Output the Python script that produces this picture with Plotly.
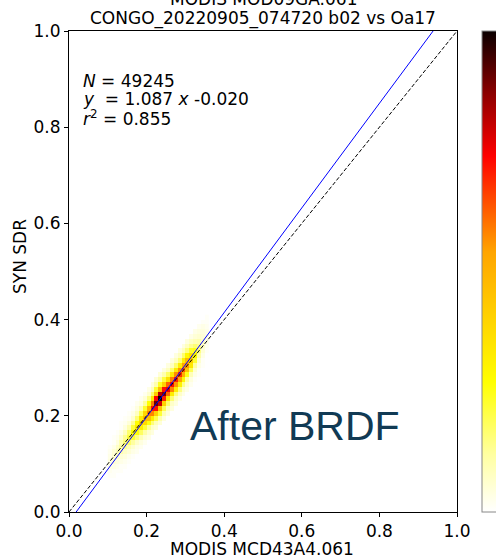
import plotly.graph_objects as go

# ---------------- data ----------------
n_points = 49245
slope = 1.087
intercept = -0.020
r2 = 0.855

bin_width = 0.01
# left edges of x bins (MODIS MCD43A4.061)
x_bin_left = [0.10, 0.11, 0.12, 0.13, 0.14, 0.15, 0.16, 0.17, 0.18, 0.19,
              0.20, 0.21, 0.22, 0.23, 0.24, 0.25, 0.26, 0.27, 0.28, 0.29,
              0.30, 0.31, 0.32, 0.33, 0.34, 0.35]
# y-bin offsets (in bins) relative to the x bin, for the counts below
y_offsets = [-5, -4, -3, -2, -1, 0, 1, 2, 3, 4, 5]
# relative pixel counts per column (one row per x bin, values along y_offsets)
column_counts = [
    [0, 0, 1, 2, 3, 4, 3, 2, 1, 0, 0],
    [0, 1, 1, 3, 5, 6, 5, 3, 1, 1, 0],
    [0, 1, 2, 4, 7, 9, 7, 4, 2, 1, 0],
    [1, 1, 3, 5, 10, 12, 10, 6, 3, 1, 1],
    [1, 2, 4, 7, 13, 16, 13, 8, 4, 2, 1],
    [1, 2, 5, 9, 17, 21, 17, 10, 5, 2, 1],
    [1, 3, 6, 12, 22, 27, 22, 13, 6, 3, 1],
    [2, 3, 7, 15, 26, 33, 27, 16, 8, 4, 2],
    [2, 4, 9, 18, 32, 40, 33, 19, 10, 4, 2],
    [2, 5, 11, 22, 38, 48, 39, 23, 12, 5, 2],
    [3, 6, 13, 26, 46, 58, 48, 27, 14, 6, 3],
    [4, 7, 16, 32, 58, 72, 59, 34, 17, 8, 4],
    [5, 9, 20, 41, 72, 90, 74, 42, 22, 10, 5],
    [5, 10, 22, 45, 80, 100, 82, 47, 24, 11, 5],
    [4, 9, 19, 40, 70, 88, 72, 41, 21, 10, 4],
    [4, 8, 17, 34, 61, 76, 62, 36, 18, 8, 4],
    [4, 7, 16, 32, 58, 72, 59, 34, 17, 8, 4],
    [4, 7, 15, 32, 56, 70, 57, 33, 17, 8, 4],
    [3, 7, 15, 31, 54, 68, 56, 32, 16, 8, 4],
    [3, 6, 14, 29, 51, 64, 54, 32, 17, 8, 4],
    [3, 6, 12, 25, 45, 56, 48, 29, 15, 8, 4],
    [2, 4, 9, 19, 34, 42, 37, 23, 13, 7, 3],
    [1, 3, 6, 12, 22, 28, 25, 16, 9, 5, 3],
    [1, 1, 3, 6, 11, 15, 14, 10, 6, 4, 2],
    [0, 1, 1, 3, 5, 7, 7, 5, 4, 3, 1],
    [0, 0, 0, 1, 2, 3, 3, 3, 2, 1, 1],
]

tick_vals = [0.0, 0.2, 0.4, 0.6, 0.8, 1.0]
tick_text = ["0.0", "0.2", "0.4", "0.6", "0.8", "1.0"]

title_line1 = "MODIS MOD09GA.061"
title_line2 = "CONGO_20220905_074720 b02 vs Oa17"
x_title = "MODIS MCD43A4.061"
y_title = "SYN SDR"
big_label = "After BRDF"

# ---------------- build grid ----------------
n_x = len(x_bin_left)
y_start = round(x_bin_left[0] / bin_width) + y_offsets[0]
y_end = round(x_bin_left[-1] / bin_width) + y_offsets[-1]
y_idx = list(range(y_start, y_end + 1))
x_centers = [xl + bin_width / 2 for xl in x_bin_left]
y_centers = [i * bin_width + bin_width / 2 for i in y_idx]
z = [[None] * n_x for _ in y_idx]
for ci, xl in enumerate(x_bin_left):
    xi = round(xl / bin_width)
    for off, val in zip(y_offsets, column_counts[ci]):
        if val > 0:
            z[xi + off - y_start][ci] = val

colorscale = [
    [0.0, "rgb(255,255,255)"],
    [0.12, "rgb(255,255,160)"],
    [0.27, "rgb(255,255,0)"],
    [0.54, "rgb(255,165,0)"],
    [0.74, "rgb(255,0,0)"],
    [0.87, "rgb(140,0,0)"],
    [1.0, "rgb(10,0,0)"],
]

fig = go.Figure()
fig.add_trace(go.Heatmap(
    x=x_centers, y=y_centers, z=z, zmin=0, zmax=100,
    colorscale=colorscale, hoverongaps=False,
    colorbar=dict(x=1.0644, xanchor="left", xpad=0, ypad=0, y=0.5, len=1,
                  thickness=26, outlinecolor="#888888", outlinewidth=1,
                  showticklabels=False, ticks=""),
))

# 1:1 line
fig.add_trace(go.Scatter(x=[0, 1], y=[0, 1], mode="lines",
                         line=dict(color="black", width=1, dash="4px,2px"),
                         showlegend=False, hoverinfo="skip"))
# regression line
x0 = -intercept / slope
x1 = (1 - intercept) / slope
fig.add_trace(go.Scatter(x=[x0, x1], y=[slope * x0 + intercept, slope * x1 + intercept],
                         mode="lines", line=dict(color="blue", width=1),
                         showlegend=False, hoverinfo="skip"))

font = "DejaVu Sans"
fs = 17
axis_common = dict(range=[0, 1], showgrid=False, zeroline=False, showline=True,
                   mirror=True, linecolor="black", linewidth=1, ticks="outside",
                   ticklen=4, tickcolor="black", tickvals=tick_vals, ticktext=tick_text,
                   tickfont=dict(family=font, size=fs, color="black"))
fig.update_xaxes(**axis_common)
fig.update_yaxes(**axis_common)

H_TOP, H_BOT, W_L, W_R = 31, 512, 69, 457
def px_x(p):
    return (p - W_L) / (W_R - W_L)
def px_y(p):
    return (H_BOT - p) / (H_BOT - H_TOP)

ann = []
ann.append(dict(text=title_line1, x=px_x(263), y=px_y(-1), xanchor="center", yanchor="middle"))
ann.append(dict(text=title_line2, x=px_x(263), y=px_y(18.5), xanchor="center", yanchor="middle"))
ann.append(dict(text=x_title, x=px_x(262), y=px_y(549), xanchor="center", yanchor="middle"))
ann.append(dict(text=y_title, x=px_x(20), y=px_y(257), xanchor="center", yanchor="middle", textangle=-90))
ann.append(dict(text=f"<i>N</i> = {n_points}", x=px_x(81), y=px_y(81), xanchor="left", yanchor="middle"))
ann.append(dict(text=f"<i>y</i>  = {slope:.3f} <i>x</i> {intercept:.3f}", x=px_x(81), y=px_y(99.5), xanchor="left", yanchor="middle"))
ann.append(dict(text=f"<i>r</i><sup>2</sup> = {r2:.3f}", x=px_x(81), y=px_y(118), xanchor="left", yanchor="middle"))
for a in ann:
    a.update(xref="paper", yref="paper", showarrow=False,
             font=dict(family=font, size=fs, color="black"))
ann.append(dict(text=big_label, x=px_x(295), y=px_y(426), xref="paper", yref="paper",
                xanchor="center", yanchor="middle", showarrow=False,
                font=dict(family="Liberation Sans", size=41, color="#113a54")))

fig.update_layout(
    width=496, height=557,
    margin=dict(l=69, r=39, t=31, b=45, autoexpand=False),
    plot_bgcolor="white", paper_bgcolor="white",
    showlegend=False, annotations=ann,
)

fig.write_html("out.html", config={"displayModeBar": False},
               post_script="document.body.style.margin='0';document.body.style.overflow='hidden';")
